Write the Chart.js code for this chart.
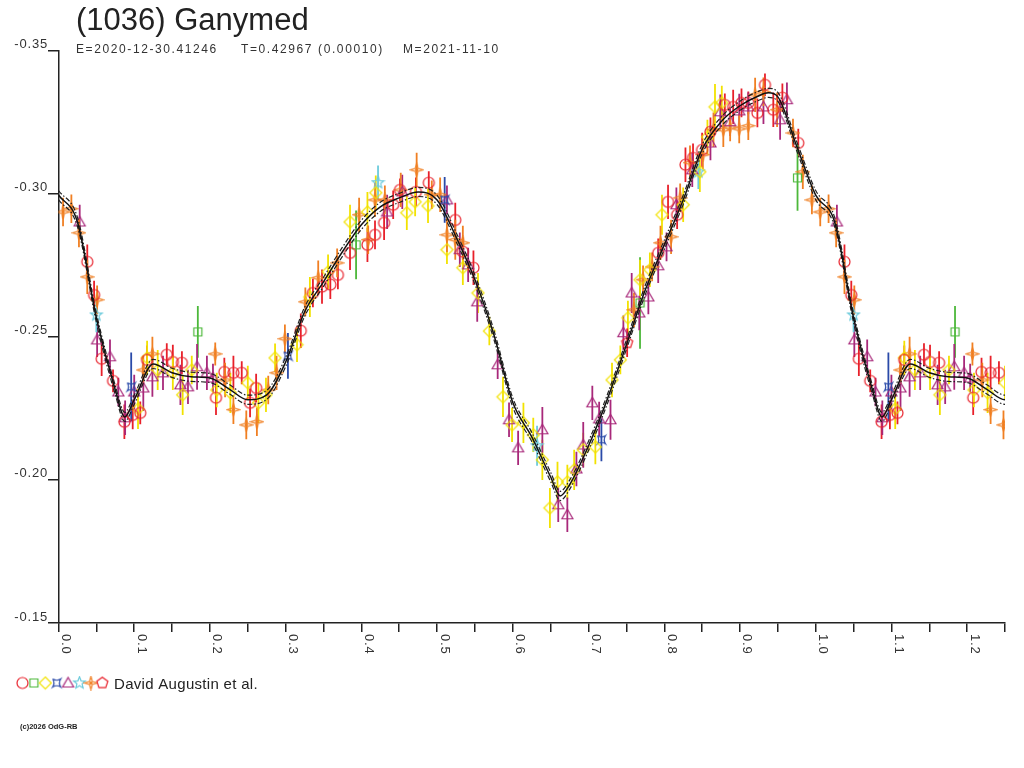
<!DOCTYPE html>
<html>
<head>
<meta charset="utf-8">
<title>(1036) Ganymed</title>
<script src="https://cdn.jsdelivr.net/npm/chart.js@4.4.1/dist/chart.umd.min.js"></script>
<style>
  html, body { margin: 0; padding: 0; background: #fff; }
  #wrap { width: 1024px; height: 768px; }
</style>
</head>
<body>
<div id="wrap"><canvas id="lc" width="1024" height="768"></canvas></div>
<script>
// texts
const titleText = '(1036) Ganymed';
const infoE = 'E=2020-12-30.41246';
const infoT = 'T=0.42967 (0.00010)';
const infoM = 'M=2021-11-10';
const observerText = 'David Augustin et al.';
const creditText = '(c)2026 OdG-RB';

// axes
const yTicks = [-0.35, -0.30, -0.25, -0.20, -0.15];
const xLabelValues = [0.0, 0.1, 0.2, 0.3, 0.4, 0.5, 0.6, 0.7, 0.8, 0.9, 1.0, 1.1, 1.2];
const phaseMax = 1.25;
const phaseStep = 0.05;

// fit curve (phase, magnitude)
const fitPhase = [0.000, 0.025, 0.050, 0.075, 0.0875, 0.100, 0.125, 0.150, 0.175, 0.200,
  0.225, 0.250, 0.275, 0.300, 0.325, 0.350, 0.375, 0.400, 0.425, 0.450,
  0.475, 0.500, 0.525, 0.550, 0.575, 0.600, 0.625, 0.650, 0.6625, 0.675,
  0.700, 0.725, 0.750, 0.775, 0.800, 0.825, 0.850, 0.875, 0.900, 0.925,
  0.9375, 0.950, 0.975, 1.000];
const fitMag = [-0.2995, -0.2901, -0.2566, -0.2314, -0.2220, -0.2280, -0.2405, -0.2374, -0.2360, -0.2356,
  -0.2318, -0.2280, -0.2297, -0.2412, -0.2587, -0.2692, -0.2797, -0.2891, -0.2954, -0.2985,
  -0.3006, -0.2978, -0.2849, -0.2699, -0.2507, -0.2270, -0.2150, -0.2010, -0.1944, -0.1983,
  -0.2119, -0.2283, -0.2472, -0.2664, -0.2821, -0.2978, -0.3155, -0.3251, -0.3307, -0.3342,
  -0.3352, -0.3338, -0.3165, -0.2995];
const bandOffset = 0.0016;

// observations: [phase, magnitude, error]
const redCircles = [
  [0.038, -0.2762, 0.006], [0.047, -0.2646, 0.005], [0.057, -0.2423, 0.006], [0.072, -0.2346, 0.004],
  [0.087, -0.2203, 0.006], [0.098, -0.2227, 0.005], [0.108, -0.2234, 0.004], [0.117, -0.2419, 0.005],
  [0.143, -0.2437, 0.004], [0.151, -0.2412, 0.006], [0.163, -0.2409, 0.004], [0.208, -0.2287, 0.006],
  [0.219, -0.2377, 0.005], [0.231, -0.2374, 0.006], [0.242, -0.2374, 0.004], [0.253, -0.2269, 0.005],
  [0.261, -0.2321, 0.005], [0.320, -0.2521, 0.006], [0.336, -0.2653, 0.005], [0.348, -0.2675, 0.006],
  [0.359, -0.2682, 0.005], [0.369, -0.2716, 0.005], [0.385, -0.2793, 0.006], [0.408, -0.2821, 0.006],
  [0.418, -0.2856, 0.005], [0.430, -0.2898, 0.006], [0.442, -0.2961, 0.005], [0.451, -0.3013, 0.004],
  [0.472, -0.3006, 0.005], [0.489, -0.3038, 0.004], [0.524, -0.2908, 0.006], [0.534, -0.2797, 0.005],
  [0.548, -0.2741, 0.006], [0.792, -0.2793, 0.005], [0.805, -0.2971, 0.006], [0.817, -0.2926, 0.005],
  [0.828, -0.3101, 0.006], [0.838, -0.3125, 0.005], [0.850, -0.3153, 0.006], [0.861, -0.3216, 0.005],
  [0.880, -0.3310, 0.004], [0.891, -0.3303, 0.006], [0.902, -0.3317, 0.005], [0.911, -0.3317, 0.004],
  [0.923, -0.3282, 0.005], [0.933, -0.3380, 0.004], [0.944, -0.3293, 0.006], [0.956, -0.3335, 0.005],
  [0.977, -0.3177, 0.005]
];
const greenSquares = [
  [0.184, -0.2517, 0.009], [0.393, -0.2821, 0.012], [0.768, -0.2618, 0.016], [0.976, -0.3055, 0.0115]
];
const yellowDiamonds = [
  [0.105, -0.2248, 0.007], [0.117, -0.2426, 0.006], [0.131, -0.2384, 0.007], [0.151, -0.2374, 0.006],
  [0.164, -0.2297, 0.007], [0.176, -0.2384, 0.005], [0.209, -0.2314, 0.006], [0.227, -0.2304, 0.007],
  [0.250, -0.2339, 0.006], [0.264, -0.2269, 0.007], [0.274, -0.2297, 0.006], [0.286, -0.2426, 0.005],
  [0.315, -0.2472, 0.006], [0.332, -0.2639, 0.007], [0.356, -0.2727, 0.006], [0.385, -0.2901, 0.006],
  [0.408, -0.2936, 0.007], [0.419, -0.3003, 0.006], [0.460, -0.2933, 0.006], [0.471, -0.2971, 0.005],
  [0.488, -0.2957, 0.006], [0.513, -0.2804, 0.005], [0.534, -0.2741, 0.006], [0.554, -0.2653, 0.007],
  [0.569, -0.2520, 0.005], [0.587, -0.2290, 0.007], [0.599, -0.2192, 0.006], [0.614, -0.2199, 0.007],
  [0.627, -0.2157, 0.006], [0.639, -0.2070, 0.007], [0.649, -0.1902, 0.007], [0.659, -0.1993, 0.007],
  [0.672, -0.1993, 0.006], [0.681, -0.2035, 0.007], [0.693, -0.2105, 0.006], [0.709, -0.2115, 0.006],
  [0.731, -0.2349, 0.006], [0.742, -0.2419, 0.005], [0.752, -0.2566, 0.006], [0.768, -0.2699, 0.007],
  [0.781, -0.2734, 0.006], [0.797, -0.2926, 0.007], [0.825, -0.2961, 0.006], [0.847, -0.3076, 0.007],
  [0.857, -0.3198, 0.006], [0.867, -0.3303, 0.008], [0.876, -0.3317, 0.006]
];
const blueStars = [
  [0.096, -0.2325, 0.012], [0.303, -0.2433, 0.008], [0.510, -0.2978, 0.008], [0.717, -0.2140, 0.0075]
];
const purpleTriangles = [
  [0.028, -0.2901, 0.006], [0.051, -0.2489, 0.006], [0.068, -0.2430, 0.006], [0.079, -0.2307, 0.005],
  [0.088, -0.2217, 0.006], [0.100, -0.2307, 0.006], [0.112, -0.2321, 0.008], [0.124, -0.2360, 0.007],
  [0.138, -0.2374, 0.006], [0.161, -0.2332, 0.007], [0.171, -0.2325, 0.006], [0.183, -0.2395, 0.008],
  [0.196, -0.2374, 0.006], [0.204, -0.2356, 0.005], [0.434, -0.2936, 0.006], [0.454, -0.3006, 0.006],
  [0.513, -0.2978, 0.005], [0.530, -0.2804, 0.006], [0.541, -0.2751, 0.006], [0.553, -0.2622, 0.007],
  [0.580, -0.2402, 0.005], [0.595, -0.2210, 0.006], [0.607, -0.2112, 0.006], [0.639, -0.2175, 0.008],
  [0.660, -0.1913, 0.006], [0.672, -0.1878, 0.006], [0.684, -0.2038, 0.006], [0.693, -0.2122, 0.008],
  [0.705, -0.2269, 0.006], [0.714, -0.2213, 0.006], [0.729, -0.2210, 0.007], [0.746, -0.2514, 0.006],
  [0.757, -0.2653, 0.007], [0.767, -0.2583, 0.006], [0.779, -0.2639, 0.006], [0.792, -0.2748, 0.006],
  [0.803, -0.2814, 0.005], [0.816, -0.2961, 0.006], [0.837, -0.3083, 0.006], [0.861, -0.3177, 0.006],
  [0.874, -0.3286, 0.006], [0.887, -0.3251, 0.005], [0.899, -0.3289, 0.006], [0.911, -0.3303, 0.005],
  [0.931, -0.3303, 0.006], [0.953, -0.3258, 0.007], [0.962, -0.3328, 0.006]
];
const cyanStars = [
  [0.050, -0.2576, 0.006], [0.422, -0.3038, 0.006], [0.632, -0.2119, 0.007], [0.845, -0.3076, 0.006]
];
const orangeStars = [
  [0.006, -0.2936, 0.005], [0.017, -0.2947, 0.005], [0.027, -0.2863, 0.005], [0.038, -0.2709, 0.006],
  [0.051, -0.2629, 0.005], [0.112, -0.2384, 0.005], [0.124, -0.2440, 0.006], [0.207, -0.2440, 0.004],
  [0.220, -0.2349, 0.006], [0.231, -0.2245, 0.005], [0.248, -0.2192, 0.005], [0.262, -0.2203, 0.005],
  [0.277, -0.2314, 0.005], [0.288, -0.2374, 0.006], [0.299, -0.2493, 0.005], [0.326, -0.2622, 0.005],
  [0.343, -0.2706, 0.006], [0.368, -0.2758, 0.005], [0.397, -0.2926, 0.006], [0.409, -0.2839, 0.005],
  [0.418, -0.2978, 0.006], [0.431, -0.2978, 0.005], [0.452, -0.3013, 0.006], [0.473, -0.3083, 0.006],
  [0.493, -0.2996, 0.005], [0.504, -0.2996, 0.006], [0.513, -0.2856, 0.006], [0.524, -0.2839, 0.007],
  [0.534, -0.2828, 0.006], [0.760, -0.2594, 0.006], [0.772, -0.2699, 0.005], [0.784, -0.2744, 0.005],
  [0.795, -0.2828, 0.006], [0.809, -0.2849, 0.006], [0.821, -0.2985, 0.005], [0.834, -0.3108, 0.006],
  [0.851, -0.3136, 0.005], [0.865, -0.3223, 0.006], [0.878, -0.3223, 0.006], [0.887, -0.3233, 0.005],
  [0.899, -0.3226, 0.005], [0.911, -0.3237, 0.005], [0.920, -0.3345, 0.006], [0.931, -0.3356, 0.005],
  [0.949, -0.3293, 0.006], [0.970, -0.3212, 0.005], [0.983, -0.3076, 0.006], [0.995, -0.2978, 0.005]
];
const redPentagons = [
  [0.751, -0.2479, 0.005]
];

// marker glyphs
function makeMarker(color, draw) {
  const c = document.createElement('canvas');
  c.width = 15; c.height = 15;
  const g = c.getContext('2d');
  g.strokeStyle = color;
  g.fillStyle = color;
  g.lineWidth = 1.2;
  g.translate(7.5, 7.5);
  g.beginPath();
  draw(g);
  g.stroke();
  return c;
}
function polygon(g, n, r, rot) {
  for (let i = 0; i < n; i++) {
    const a = rot + i * 2 * Math.PI / n;
    if (i === 0) g.moveTo(r * Math.cos(a), r * Math.sin(a));
    else g.lineTo(r * Math.cos(a), r * Math.sin(a));
  }
  g.closePath();
}
function starPath(g, n, ro, ri) {
  for (let i = 0; i < 2 * n; i++) {
    const r = i % 2 ? ri : ro;
    const a = -Math.PI / 2 + i * Math.PI / n;
    if (i === 0) g.moveTo(r * Math.cos(a), r * Math.sin(a));
    else g.lineTo(r * Math.cos(a), r * Math.sin(a));
  }
  g.closePath();
}

const series = [
  { rows: redCircles, color: '#e8202a', marker: makeMarker('#e8202a', g => g.arc(0, 0, 5.5, 0, 2 * Math.PI)) },
  { rows: greenSquares, color: '#4cb83a', marker: makeMarker('#4cb83a', g => g.rect(-4, -4, 8, 8)) },
  { rows: yellowDiamonds, color: '#f2e200', marker: makeMarker('#f2e200', g => polygon(g, 4, 6, -Math.PI / 2)) },
  { rows: blueStars, color: '#2a4aa8', marker: makeMarker('#2a4aa8', g => {
      g.moveTo(-4, -4); g.quadraticCurveTo(0, -1.5, 4, -4);
      g.quadraticCurveTo(1.5, 0, 4, 4); g.quadraticCurveTo(0, 1.5, -4, 4);
      g.quadraticCurveTo(-1.5, 0, -4, -4);
    }) },
  { rows: purpleTriangles, color: '#a8287a', marker: makeMarker('#a8287a', g => {
      g.moveTo(0, -5.5); g.lineTo(5.5, 4); g.lineTo(-5.5, 4); g.closePath();
    }) },
  { rows: cyanStars, color: '#6ccbdc', marker: makeMarker('#6ccbdc', g => starPath(g, 5, 6.2, 2.7)) },
  { rows: orangeStars, color: '#f07f22', marker: makeMarker('#f07f22', g => {
      starPath(g, 4, 6.5, 2); g.stroke(); g.beginPath(); g.arc(0, 0, 1, 0, 2 * Math.PI); g.fill();
    }) },
  { rows: redPentagons, color: '#e8202a', marker: makeMarker('#e8202a', g => polygon(g, 5, 5.8, -Math.PI / 2)) }
];

// phase 0..0.25 is repeated after phase 1
function expand(rows) {
  const pts = [], errs = [];
  rows.forEach(r => { pts.push({ x: r[0], y: r[1] }); errs.push(r[2]); });
  rows.forEach(r => {
    if (r[0] + 1 <= phaseMax) { pts.push({ x: r[0] + 1, y: r[1] }); errs.push(r[2]); }
  });
  return { pts, errs };
}
function fitPoints(shift) {
  const pts = fitPhase.map((p, i) => ({ x: p, y: fitMag[i] + shift }));
  fitPhase.forEach((p, i) => {
    if (p > 0 && p <= 0.3) pts.push({ x: p + 1, y: fitMag[i] + shift });
  });
  return pts;
}

const datasets = [
  { data: fitPoints(0), showLine: true, pointRadius: 0, borderColor: '#111', borderWidth: 1.5,
    cubicInterpolationMode: 'monotone' },
  { data: fitPoints(-bandOffset), showLine: true, pointRadius: 0, borderColor: '#222', borderWidth: 1.2,
    borderDash: [5, 2, 1.5, 2], cubicInterpolationMode: 'monotone' },
  { data: fitPoints(bandOffset), showLine: true, pointRadius: 0, borderColor: '#222', borderWidth: 1.2,
    borderDash: [5, 2, 1.5, 2], cubicInterpolationMode: 'monotone' }
];
series.forEach(s => {
  const e = expand(s.rows);
  datasets.push({
    data: e.pts, errs: e.errs, showLine: false,
    pointStyle: s.marker, pointRadius: 5, borderColor: s.color, backgroundColor: s.color
  });
});

const errorBars = {
  id: 'errorBars',
  beforeDatasetsDraw(chart) {
    const ctx = chart.ctx, sx = chart.scales.x, sy = chart.scales.y, a = chart.chartArea;
    ctx.save();
    ctx.beginPath();
    ctx.rect(a.left, a.top, a.right - a.left, a.bottom - a.top);
    ctx.clip();
    ctx.lineWidth = 1.8;
    chart.data.datasets.forEach(ds => {
      if (!ds.errs) return;
      ctx.strokeStyle = ds.borderColor;
      ds.data.forEach((p, j) => {
        const x = sx.getPixelForValue(p.x);
        ctx.beginPath();
        ctx.moveTo(x, sy.getPixelForValue(p.y - ds.errs[j]));
        ctx.lineTo(x, sy.getPixelForValue(p.y + ds.errs[j]));
        ctx.stroke();
      });
    });
    ctx.restore();
  }
};

const decor = {
  id: 'decor',
  beforeDraw(chart) {
    chart.ctx.letterSpacing = '0.8px';
  },
  afterDraw(chart) {
    const ctx = chart.ctx, sx = chart.scales.x;
    ctx.save();
    ctx.textAlign = 'left';

    // phase labels, turned to read downwards
    ctx.font = '13px "Liberation Sans", Arial, sans-serif';
    ctx.letterSpacing = '0.8px';
    ctx.fillStyle = '#333';
    ctx.textBaseline = 'bottom';
    xLabelValues.forEach(v => {
      ctx.save();
      ctx.translate(sx.getPixelForValue(v) + 0.5, sx.top + 11);
      ctx.rotate(Math.PI / 2);
      ctx.fillText(v.toFixed(1), 0, 0);
      ctx.restore();
    });
    ctx.textBaseline = 'alphabetic';

    ctx.letterSpacing = '0px';
    ctx.fillStyle = '#222';
    ctx.font = '31px "Liberation Sans", Arial, sans-serif';
    ctx.fillText(titleText, 76, 30);

    ctx.fillStyle = '#333';
    ctx.font = '12px "Liberation Sans", Arial, sans-serif';
    ctx.letterSpacing = '1.6px';
    ctx.fillText(infoE, 76, 53);
    ctx.fillText(infoT, 241, 53);
    ctx.fillText(infoM, 403, 53);

    // observer legend
    series.forEach((s, i) => {
      ctx.drawImage(s.marker, 22.5 + i * 11.4 - 7.5, 683 - 7.5);
    });
    ctx.letterSpacing = '0.3px';
    ctx.font = '15px "Liberation Sans", Arial, sans-serif';
    ctx.fillStyle = '#222';
    ctx.fillText(observerText, 114, 689);

    ctx.letterSpacing = '0px';
    ctx.font = 'bold 7.5px "Liberation Sans", Arial, sans-serif';
    ctx.fillText(creditText, 20, 729);
    ctx.restore();
  }
};

new Chart(document.getElementById('lc'), {
  type: 'scatter',
  data: { datasets: datasets },
  plugins: [errorBars, decor],
  options: {
    responsive: false,
    animation: false,
    events: [],
    layout: { padding: { left: 0, top: 50.5, right: 19, bottom: 0 } },
    plugins: { legend: { display: false }, tooltip: { enabled: false } },
    scales: {
      x: {
        type: 'linear',
        min: 0,
        max: phaseMax,
        ticks: { stepSize: phaseStep, display: false, autoSkip: false },
        grid: { drawOnChartArea: false, tickLength: 9, color: '#222', lineWidth: 1.5 },
        border: { display: true, color: '#222', width: 1.5 },
        afterFit: s => { s.height = 145; }
      },
      y: {
        type: 'linear',
        min: yTicks[0],
        max: yTicks[yTicks.length - 1],
        reverse: true,
        afterBuildTicks: s => { s.ticks = yTicks.map(v => ({ value: v })); },
        ticks: {
          autoSkip: false,
          padding: 0,
          labelOffset: -6,
          color: '#333',
          font: { family: '"Liberation Sans", Arial, sans-serif', size: 13 },
          callback: v => v.toFixed(2)
        },
        grid: { drawOnChartArea: false, tickLength: 10.5, color: '#222', lineWidth: 1.5 },
        border: { display: true, color: '#222', width: 1.5 },
        afterFit: s => { s.width = 58.5; }
      }
    }
  }
});
</script>
</body>
</html>
